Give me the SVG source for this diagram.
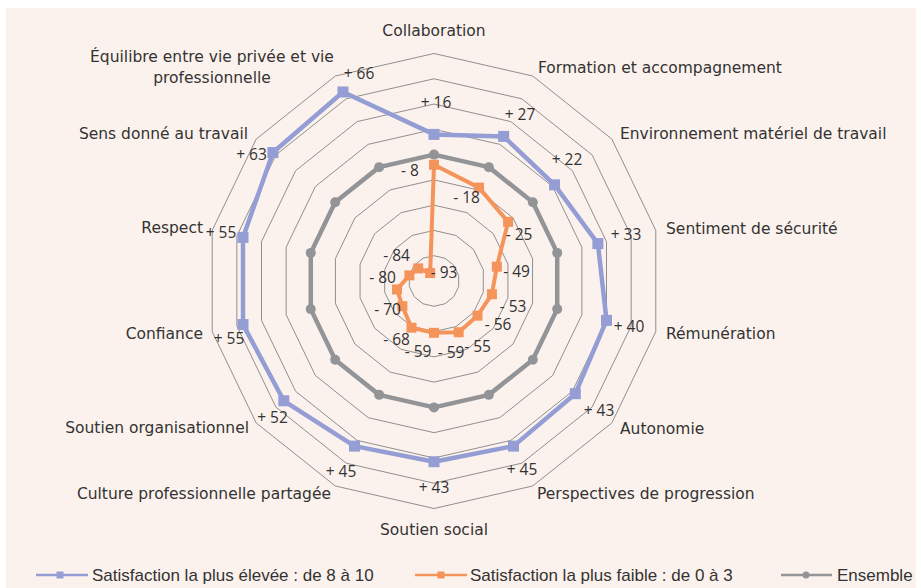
<svg xmlns="http://www.w3.org/2000/svg" width="921" height="588" viewBox="0 0 921 588">
<style>
.ax{font-family:"DejaVu Sans","Liberation Sans",sans-serif;font-size:15.5px;fill:#333}
.dl{font-family:"Open Sans","Liberation Sans",sans-serif;font-size:15.5px;fill:#333;text-anchor:middle}
.lg{font-family:"Liberation Sans",sans-serif;font-size:17px;fill:#333}
.ring{fill:none;stroke:#8f8f8f;stroke-width:1;vector-effect:non-scaling-stroke}
.sb{fill:none;stroke:#949ED4;stroke-width:4.5;stroke-linejoin:round}
.so{fill:none;stroke:#F5945A;stroke-width:4;stroke-linejoin:round}
.sg{fill:none;stroke:#929497;stroke-width:4.5;stroke-linejoin:round}
.mb{fill:#949ED4}
.mo{fill:#F5945A}
.mg{fill:#929497}
</style>
<defs>
<polygon id="unit" class="ring" points="0,-100 43.388,-90.097 78.183,-62.349 97.493,-22.252 97.493,22.252 78.183,62.349 43.388,90.097 0,100 -43.388,90.097 -78.183,62.349 -97.493,22.252 -97.493,-22.252 -78.183,-62.349 -43.388,-90.097"/>
<rect id="sqb" x="-5.5" y="-5.5" width="11" height="11" class="mb"/>
<rect id="sqo" x="-5" y="-5" width="10" height="10" class="mo"/>
<circle id="cg" r="5" class="mg"/>
</defs>
<rect x="0" y="0" width="921" height="588" fill="#ffffff"/>
<rect x="6" y="8" width="910" height="580" fill="#FCF2ED"/>
<g id="grid">
<use href="#unit" transform="translate(434,281) scale(0.25278)"/>
<use href="#unit" transform="translate(434,281) scale(0.50556)"/>
<use href="#unit" transform="translate(434,281) scale(0.75833)"/>
<use href="#unit" transform="translate(434,281) scale(1.01111)"/>
<use href="#unit" transform="translate(434,281) scale(1.26389)"/>
<use href="#unit" transform="translate(434,281) scale(1.51667)"/>
<use href="#unit" transform="translate(434,281) scale(1.76944)"/>
<use href="#unit" transform="translate(434,281) scale(2.02222)"/>
<use href="#unit" transform="translate(434,281) scale(2.275)"/>
</g>
<g id="series-high">
<polygon class="sb" points="434,134.39 503.64,136.38 554.55,184.86 597.89,243.59 606.51,320.37 575.31,393.69 513.51,446.11 434,461.74 354.49,446.11 283.80,400.78 243.01,324.59 243.01,237.41 272.93,152.55 342.97,91.97"/>
<use href="#sqb" x="434" y="134.39"/><use href="#sqb" x="503.64" y="136.38"/><use href="#sqb" x="554.55" y="184.86"/><use href="#sqb" x="597.89" y="243.59"/><use href="#sqb" x="606.51" y="320.37"/><use href="#sqb" x="575.31" y="393.69"/><use href="#sqb" x="513.51" y="446.11"/><use href="#sqb" x="434" y="461.74"/><use href="#sqb" x="354.49" y="446.11"/><use href="#sqb" x="283.80" y="400.78"/><use href="#sqb" x="243.01" y="324.59"/><use href="#sqb" x="243.01" y="237.41"/><use href="#sqb" x="272.93" y="152.55"/><use href="#sqb" x="342.97" y="91.97"/>
</g>
<g id="series-low">
<polygon class="so" points="434,164.72 478.97,187.62 508.11,221.90 496.84,266.66 491.91,294.22 477.48,315.67 458.68,332.25 434,332.82 411.52,327.69 402.38,306.21 397.03,289.44 409.36,275.38 418.19,268.39 430.16,273.03"/>
<use href="#sqo" x="434" y="164.72"/><use href="#sqo" x="478.97" y="187.62"/><use href="#sqo" x="508.11" y="221.90"/><use href="#sqo" x="496.84" y="266.66"/><use href="#sqo" x="491.91" y="294.22"/><use href="#sqo" x="477.48" y="315.67"/><use href="#sqo" x="458.68" y="332.25"/><use href="#sqo" x="434" y="332.82"/><use href="#sqo" x="411.52" y="327.69"/><use href="#sqo" x="402.38" y="306.21"/><use href="#sqo" x="397.03" y="289.44"/><use href="#sqo" x="409.36" y="275.38"/><use href="#sqo" x="418.19" y="268.39"/><use href="#sqo" x="430.16" y="273.03"/>
</g>
<g id="series-all">
<polygon class="sg" points="434,154.61 488.84,167.13 532.81,202.20 557.22,252.88 557.22,309.12 532.81,359.80 488.84,394.87 434,407.39 379.16,394.87 335.19,359.80 310.78,309.12 310.78,252.88 335.19,202.20 379.16,167.13"/>
<use href="#cg" x="434" y="154.61"/><use href="#cg" x="488.84" y="167.13"/><use href="#cg" x="532.81" y="202.20"/><use href="#cg" x="557.22" y="252.88"/><use href="#cg" x="557.22" y="309.12"/><use href="#cg" x="532.81" y="359.80"/><use href="#cg" x="488.84" y="394.87"/><use href="#cg" x="434" y="407.39"/><use href="#cg" x="379.16" y="394.87"/><use href="#cg" x="335.19" y="359.80"/><use href="#cg" x="310.78" y="309.12"/><use href="#cg" x="310.78" y="252.88"/><use href="#cg" x="335.19" y="202.20"/><use href="#cg" x="379.16" y="167.13"/>
</g>
<g id="axis-labels" class="ax">
<text x="434" y="36" text-anchor="middle">Collaboration</text>
<text x="538" y="73">Formation et accompagnement</text>
<text x="620" y="139">Environnement matériel de travail</text>
<text x="666" y="234">Sentiment de sécurité</text>
<text x="666" y="339">Rémunération</text>
<text x="620" y="434">Autonomie</text>
<text x="537" y="499">Perspectives de progression</text>
<text x="434" y="535" text-anchor="middle">Soutien social</text>
<text x="331" y="499" text-anchor="end">Culture professionnelle partagée</text>
<text x="249" y="433" text-anchor="end">Soutien organisationnel</text>
<text x="203" y="339" text-anchor="end">Confiance</text>
<text x="203" y="233" text-anchor="end">Respect</text>
<text x="248" y="139" text-anchor="end">Sens donné au travail</text>
<text x="212" y="62" text-anchor="middle">Équilibre entre vie privée et vie</text>
<text x="212" y="83" text-anchor="middle">professionnelle</text>
</g>
<g id="labels-high" class="dl">
<text x="436" y="107.5">+ 16</text>
<text x="520" y="120">+ 27</text>
<text x="567" y="165">+ 22</text>
<text x="626" y="240">+ 33</text>
<text x="629" y="332">+ 40</text>
<text x="599" y="415.5">+ 43</text>
<text x="522" y="475">+ 45</text>
<text x="434" y="492.5">+ 43</text>
<text x="341" y="476.5">+ 45</text>
<text x="272.5" y="423">+ 52</text>
<text x="229" y="344">+ 55</text>
<text x="221" y="238">+ 55</text>
<text x="251.5" y="160">+ 63</text>
<text x="359" y="79">+ 66</text>
</g>
<g id="labels-low" class="dl">
<text x="410" y="175.5">- 8</text>
<text x="466.5" y="202.5">- 18</text>
<text x="519" y="240">- 25</text>
<text x="516.5" y="277">- 49</text>
<text x="513" y="311.5">- 53</text>
<text x="498" y="330">- 56</text>
<text x="477.5" y="351.5">- 55</text>
<text x="451" y="358">- 59</text>
<text x="418" y="357">- 59</text>
<text x="396.5" y="345">- 68</text>
<text x="387.5" y="315">- 70</text>
<text x="382.5" y="282.5">- 80</text>
<text x="396.5" y="261">- 84</text>
<text x="444" y="277.5">- 93</text>
</g>
<g id="legend">
<line x1="36" y1="575" x2="88" y2="575" stroke="#949ED4" stroke-width="2.5"/>
<rect x="56.5" y="571.5" width="7" height="7" class="mb"/>
<text class="lg" x="92" y="581">Satisfaction la plus élevée : de 8 à 10</text>
<line x1="415" y1="575" x2="467" y2="575" stroke="#F5945A" stroke-width="2.5"/>
<rect x="437.5" y="571.5" width="7" height="7" class="mo"/>
<text class="lg" x="470" y="581">Satisfaction la plus faible : de 0 à 3</text>
<line x1="781" y1="575" x2="832" y2="575" stroke="#929497" stroke-width="2.5"/>
<circle cx="806" cy="575" r="3.5" class="mg"/>
<text class="lg" x="837" y="581">Ensemble</text>
</g>
</svg>
